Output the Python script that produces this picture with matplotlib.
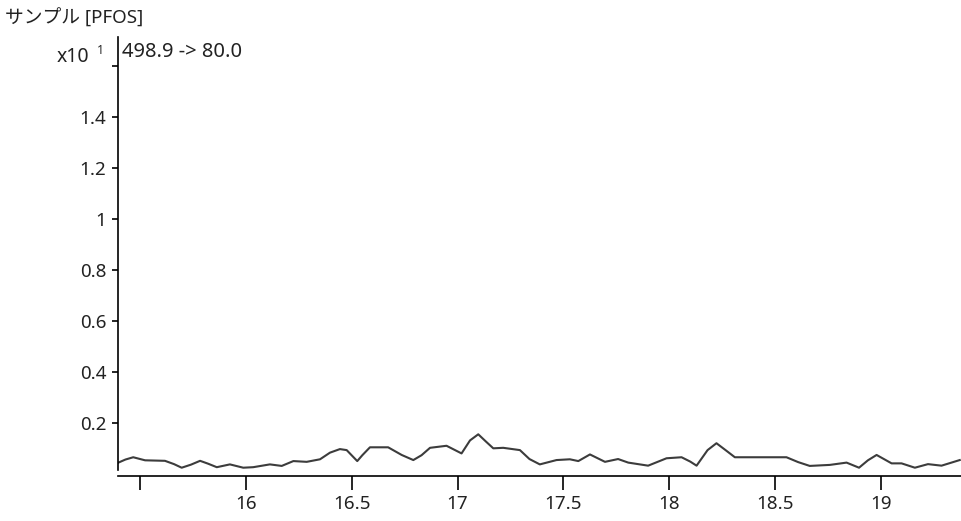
import matplotlib
matplotlib.use("Agg")
import matplotlib.pyplot as plt

plt.rcParams['font.family'] = ['Noto Sans', 'Noto Sans CJK JP', 'DejaVu Sans']

# retention time (min) and intensity (x10^1)
rt = [15.397, 15.430, 15.467, 15.523, 15.617, 15.660, 15.696, 15.740, 15.783,
      15.820, 15.862, 15.924, 15.987, 16.034, 16.113, 16.169, 16.224, 16.287,
      16.350, 16.397, 16.444, 16.476, 16.505, 16.526, 16.550, 16.586, 16.672,
      16.736, 16.791, 16.830, 16.870, 16.948, 17.019, 17.059, 17.098, 17.135,
      17.169, 17.216, 17.295, 17.340, 17.389, 17.468, 17.531, 17.571, 17.626,
      17.697, 17.759, 17.807, 17.901, 17.988, 18.059, 18.100, 18.130, 18.182,
      18.224, 18.267, 18.311, 18.397, 18.555, 18.610, 18.665, 18.760, 18.839,
      18.898, 18.940, 18.981, 19.052, 19.099, 19.162, 19.224, 19.288, 19.374]
intensity = [0.046, 0.058, 0.067, 0.055, 0.053, 0.040, 0.026, 0.038, 0.053,
             0.042, 0.028, 0.039, 0.026, 0.028, 0.039, 0.033, 0.052, 0.049,
             0.059, 0.085, 0.099, 0.095, 0.070, 0.052, 0.075, 0.106, 0.106,
             0.076, 0.056, 0.075, 0.104, 0.112, 0.082, 0.133, 0.157, 0.128,
             0.102, 0.104, 0.095, 0.060, 0.039, 0.056, 0.059, 0.052, 0.078,
             0.049, 0.060, 0.046, 0.034, 0.063, 0.067, 0.050, 0.034, 0.095,
             0.122, 0.095, 0.067, 0.067, 0.067, 0.048, 0.033, 0.037, 0.046,
             0.026, 0.055, 0.076, 0.043, 0.043, 0.026, 0.040, 0.034, 0.056]

xticks = [15.5, 16, 16.5, 17, 17.5, 18, 18.5, 19]
xticklabels = ['', '16', '16.5', '17', '17.5', '18', '18.5', '19']
yticks = [0.2, 0.4, 0.6, 0.8, 1.0, 1.2, 1.4, 1.6]
yticklabels = ['0.2', '0.4', '0.6', '0.8', '1', '1.2', '1.4', '']

title = 'サンプル [PFOS]'
transition = '498.9 -> 80.0'

fig = plt.figure(figsize=(9.61, 5.21), dpi=100)
ax = fig.add_axes([118/961, 1 - 470/521, 1 - 118/961, (470 - 37)/521])

ax.plot(rt, intensity, color='#3c3c3c', lw=1.5, solid_joinstyle='round')

ax.set_xlim(15.395, 19.38)
ax.set_ylim(0.017, 1.715)
ax.set_xticks(xticks)
ax.set_xticklabels(xticklabels)
ax.set_yticks(yticks)
ax.set_yticklabels(yticklabels)

for s in ['top', 'right']:
    ax.spines[s].set_visible(False)
ax.spines['bottom'].set_position(('outward', 4))
ax.spines['left'].set_linewidth(1.2)
ax.spines['bottom'].set_linewidth(1.2)
ax.tick_params(axis='x', length=10, width=1.2, pad=4, labelsize=13.5, labelcolor='#222222')
ax.tick_params(axis='y', length=4.5, width=1.2, pad=4, labelsize=13.5, labelcolor='#222222')

fig.text(5/961, 1 - 18/521, title, fontsize=13.5, va='center', ha='left', color='#222222')
ax.text(0.005, 0.965, transition, transform=ax.transAxes, fontsize=14.5, va='center', ha='left', color='#222222')
fig.text(89/961, 1 - 57/521, 'x10', fontsize=14, va='center', ha='right', color='#222222')
fig.text(97/961, 1 - 50/521, '1', fontsize=9, va='center', ha='left', color='#222222')

fig.savefig('out.png', dpi=100)
